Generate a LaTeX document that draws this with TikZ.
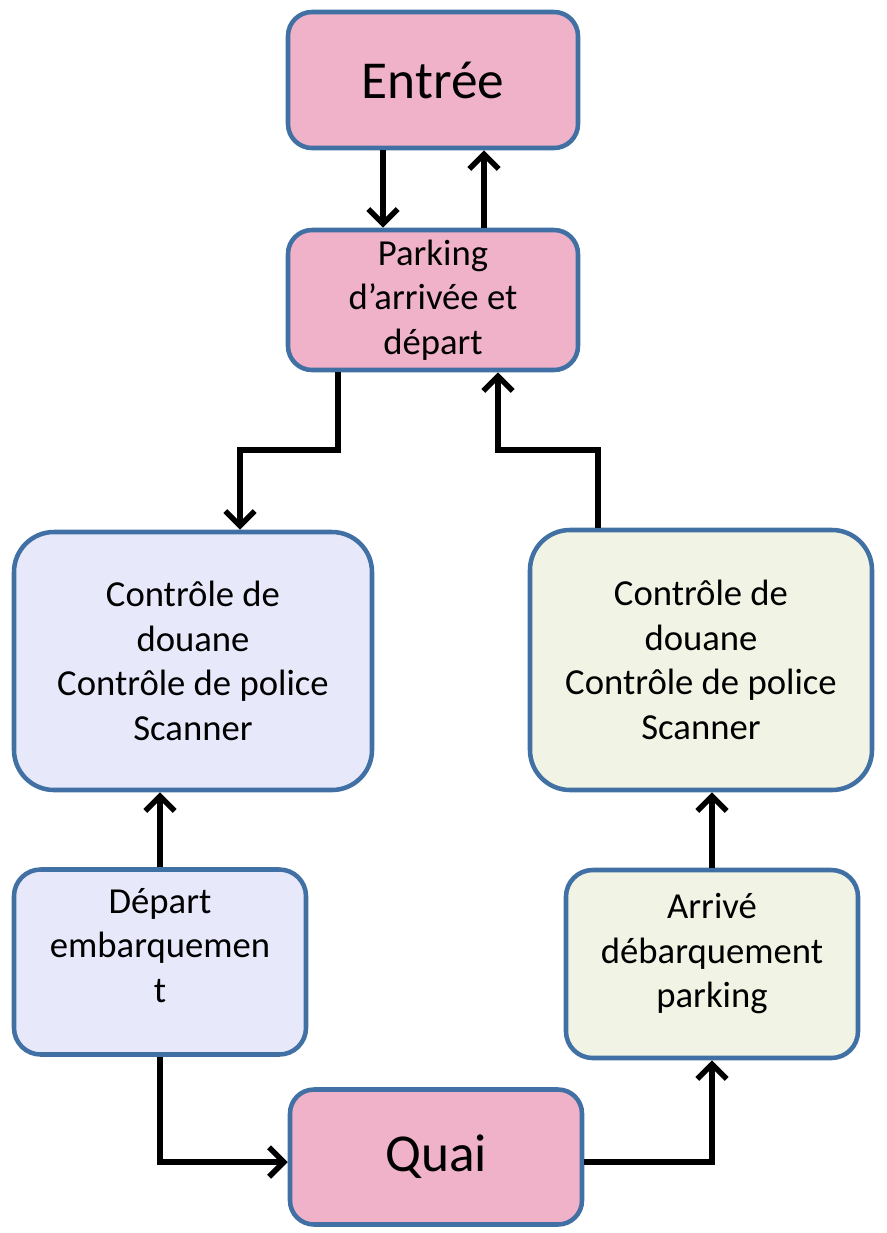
\documentclass[tikz,border=0pt]{standalone}
\usepackage{fontspec}
\setmainfont{Carlito}
\usetikzlibrary{arrows.meta}
\definecolor{boxline}{RGB}{65,112,165}
\definecolor{rosefill}{RGB}{240,178,200}
\definecolor{bluefill}{RGB}{231,233,250}
\definecolor{greenfill}{RGB}{241,244,228}
\tikzset{
  box/.style={draw=boxline,line width=3.4pt,align=center,inner sep=2pt,fill=white,
    font=\fontsize{27.5}{33.5}\selectfont},
  pinkbox/.style={box,fill=rosefill,rounded corners=18pt},
  leftbox/.style={box,fill=bluefill},
  rightbox/.style={box,fill=greenfill},
  big/.style={font=\fontsize{40}{46}\selectfont},
  arr/.style={-{Straight Barb[length=11pt,width=22pt]},line width=4.2pt,black}
}

\begin{document}
\begin{tikzpicture}[x=0.75pt,y=-0.75pt]
\useasboundingbox (0,0) rectangle (887,1233);
\node[pinkbox,big,minimum width=217.5pt,minimum height=102pt] (entree) at (433,80) {Entrée};
\node[pinkbox,minimum width=217.5pt,minimum height=105pt] (parking) at (433,300) {Parking\\d’arrivée et\\départ};
\node[leftbox,rounded corners=30pt,minimum width=268.5pt,minimum height=193.5pt] (ctrlL) at (193,661) {Contrôle de\\douane\\Contrôle de police\\Scanner};
\node[rightbox,rounded corners=30pt,minimum width=256.5pt,minimum height=195pt] (ctrlR) at (701,660) {Contrôle de\\douane\\Contrôle de police\\Scanner};
\node[leftbox,rounded corners=20pt,minimum width=219pt,minimum height=138.75pt,text depth=25pt] (depart) at (160,962) {Départ\\embarquemen\\t};
\node[rightbox,rounded corners=20pt,minimum width=219pt,minimum height=141pt,text depth=20pt] (arrive) at (712,964) {Arrivé\\débarquement\\parking};
\node[pinkbox,big,minimum width=219pt,minimum height=101.25pt] (quai) at (436,1157) {Quai};
\coordinate (jonction) at (0,450);
\draw[arr] ([xshift=-37.5pt]entree.south) -- ([xshift=-37.5pt]parking.north);
\draw[arr] ([xshift=38.25pt]parking.north) -- ([xshift=38.25pt]entree.south);
\draw[arr] ([xshift=-71.25pt]parking.south) -- ([xshift=-71.25pt]parking.south |- jonction) -| ([xshift=35.25pt]ctrlL.north);
\draw[arr] ([xshift=-77.25pt]ctrlR.north) -- ([xshift=-77.25pt]ctrlR.north |- jonction) -| ([xshift=48.75pt]parking.south);
\draw[arr] (depart.north) -- (depart.north |- ctrlL.south);
\draw[arr] (arrive.north) -- (arrive.north |- ctrlR.south);
\draw[arr] (depart.south) |- ([yshift=-3.75pt]quai.west);
\draw[arr] ([yshift=-3.75pt]quai.east) -| (arrive.south);
\end{tikzpicture}
\end{document}
